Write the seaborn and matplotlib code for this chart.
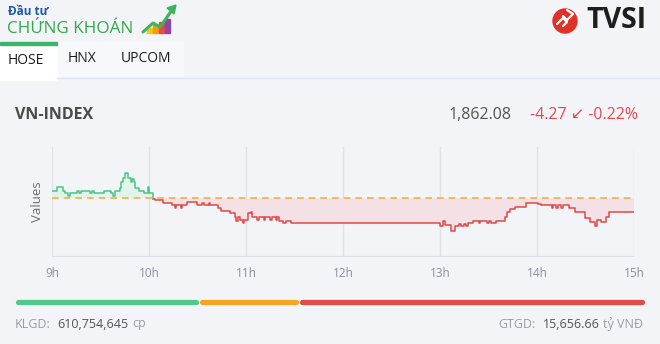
import numpy as np
import pandas as pd
import matplotlib
matplotlib.use("Agg")
import matplotlib.pyplot as plt
from matplotlib.patches import Rectangle, Circle, Polygon
import seaborn as sns

# intraday VN-INDEX: minutes after 9:00 -> index level (step series)
minutes = [0, 3.2, 6.7, 8.2, 10.2, 11.2, 15.6, 16.8, 18, 23.2, 24.8, 25.9, 32, 36.6, 37.6, 38.7,
           41.8, 42.8, 44.2, 45.3, 46.9, 48.6, 49.6, 50.6, 51.5, 54.1, 57.2, 59.3, 60.3,
           62.2, 63.5, 68.4, 74.5, 76, 77, 79.5, 80.5, 83.2, 89.4, 93, 94, 97, 98,
           102.4, 104.8, 109.8, 112.9, 114, 115, 116, 118, 119, 121.1, 122.8, 123.8,
           127, 128, 131, 132, 135, 136, 138.5, 139.3, 140.7, 143, 144.5, 148,
           240, 241.8, 243.4, 246.9, 249, 252, 253, 255, 256, 257.2, 260.3, 264, 265,
           269, 270, 271.7, 274.8, 279.9, 281.3, 283, 286.1, 293.3, 300.5, 302.6,
           309, 310, 312, 313, 315, 316, 320.1, 323.2, 329.4, 332.5, 335.6, 337,
           339.7, 342.4, 344.4, 360]
index_values = [1868.5, 1869.7, 1868.5, 1867.7, 1866.8, 1867.7, 1868.5, 1867.7, 1868.5, 1867.7,
                1868.5, 1867.7, 1868.5, 1867.7, 1866.8, 1868.5,
                1869.3, 1871.2, 1872.4, 1874.0, 1872.4, 1871.2, 1872.0, 1871.2, 1869.3,
                1868.5, 1867.7, 1869.7, 1867.7,
                1866.1, 1865.7, 1864.8, 1864.1, 1863.2, 1864.1, 1863.2, 1864.1, 1865.1,
                1864.1, 1864.6, 1864.1, 1864.6, 1864.1,
                1863.2, 1862.4, 1861.6, 1860.4, 1859.4, 1860.4, 1859.5, 1858.5, 1859.5,
                1861.6, 1862.0, 1860.4,
                1859.6, 1860.4, 1859.6, 1860.4, 1859.6, 1860.4, 1859.6, 1860.4, 1859.3,
                1858.6, 1859.3, 1858.7,
                1857.6, 1859.3, 1858.1, 1856.3, 1857.6, 1858.2, 1857.6, 1858.2, 1857.6,
                1858.5, 1859.3, 1858.6, 1859.3,
                1858.6, 1859.3, 1858.5, 1859.3, 1860.6, 1862.1, 1862.8, 1863.6, 1864.8,
                1864.4, 1864.1,
                1863.3, 1864.1, 1863.3, 1864.1, 1863.3, 1864.1, 1863.1, 1862.1, 1860.1,
                1859.1, 1857.6, 1859.5,
                1859.1, 1860.6, 1862.08, 1862.08]
ref_close = 1866.35
last_value = 1862.08
change = -4.27
change_pct = -0.22

hour_ticks = [0, 60, 120, 180, 240, 300, 360]
hour_labels = ["9h", "10h", "11h", "12h", "13h", "14h", "15h"]

# market breadth bar (advancing / unchanged / declining)
breadth_counts = [117, 63, 220]
breadth_colors = ["#52c98a", "#f5a623", "#e04b4b"]

volume = 610754645
turnover = 15656.66

BG = "#f3f4f8"
GREEN = "#4cc487"
RED = "#e04848"
ORANGE = "#f5b041"

sns.set_style("white")
plt.rcParams["font.family"] = ["Open Sans", "DejaVu Sans"]

fig = plt.figure(figsize=(6.6, 3.44), dpi=100, facecolor=BG)

# pixel layer for header / footer decoration
deco = fig.add_axes([0, 0, 1, 1], zorder=0)
deco.set_xlim(0, 660)
deco.set_ylim(344, 0)
deco.axis("off")

# logo
deco.text(8, 15, "Đầu tư", color="#1d5aa6", fontsize=8.5, fontweight="bold", va="baseline")
deco.text(7, 33, "CHỨNG KHOÁN", color="#36a84a", fontsize=12.3, va="baseline")
for bx, top, c in [(147, 28, "#f5c518"), (153, 25, "#f39c12"), (159, 22, "#e74c3c"), (165, 19, "#8e44ad")]:
    deco.add_patch(Rectangle((bx, top), 4.5, 33 - top, color=c))
deco.plot([143, 153, 160, 172], [32, 23, 27, 10], color="#3cb55a", lw=2.2, solid_capstyle="round")
deco.add_patch(Polygon([[176, 5], [167, 8], [174, 14]], color="#3cb55a"))

deco.add_patch(Circle((565, 21), 12, color="#e03127"))
deco.plot([557, 563, 567, 563], [24, 18, 22, 26], color="white", lw=1.6)
deco.plot([563, 567, 573, 567], [16, 20, 14, 10], color="white", lw=1.6)
deco.text(586, 21, "TVSI", color="#1e1e1e", fontsize=20.5, fontweight="bold", va="center")

# tabs
deco.add_patch(Rectangle((57, 42), 126, 36, color="#f7f8fb"))
deco.add_patch(Rectangle((0, 42), 57, 38, color="white"))
deco.add_patch(Rectangle((0, 42), 57, 2.5, color="#3cb56a"))
deco.plot([57, 660], [77.5, 77.5], color="#d8e5f5", lw=1)
deco.text(8, 60, "HOSE", color="#1a1a1a", fontsize=10, va="center")
deco.text(68, 58, "HNX", color="#1a1a1a", fontsize=10, va="center")
deco.text(121, 58, "UPCOM", color="#1a1a1a", fontsize=10, va="center")

# index header
deco.text(15, 115, "VN-INDEX", color="#4a4a4a", fontsize=11.5, fontweight="bold", va="center")
deco.text(512, 115, f"{last_value:,.2f}", color="#555555", fontsize=11.5, va="center", ha="right")
deco.text(638, 115, f"{change:.2f} ↙ {change_pct:.2f}%", color="#e5484d", fontsize=11.5,
          va="center", ha="right")

# footer
deco.text(15, 324, "KLGD:", color="#9a9da4", fontsize=9, va="center")
deco.text(57, 324, f"{volume:,}", color="#555555", fontsize=9, va="center")
deco.text(132, 324, "cp", color="#9a9da4", fontsize=9, va="center")
deco.text(498, 324, "GTGD:", color="#9a9da4", fontsize=9, va="center")
deco.text(543, 324, f"{turnover:,.2f}", color="#555555", fontsize=9, va="center")
deco.text(643, 324, "tỷ VNĐ", color="#9a9da4", fontsize=9, va="center", ha="right")

# main chart
ax = fig.add_axes([52 / 660, 1 - 256 / 344, 582 / 660, 109 / 344], zorder=1)
ax.set_facecolor("none")

df = pd.DataFrame({"minute": minutes, "value": index_values})
k = int(np.argmax(df["value"].values < ref_close))
up = df.iloc[:k + 1]
down = df.iloc[k:]

ax.fill_between(df["minute"], np.maximum(df["value"], ref_close), ref_close,
                step="post", color="#e2f3ea", lw=0)
ax.fill_between(df["minute"], np.minimum(df["value"], ref_close), ref_close,
                step="post", color="#f3e1e5", lw=0)
ax.axhline(ref_close, color=ORANGE, lw=1.2, ls=(0, (4, 3)), zorder=3)
sns.lineplot(data=up, x="minute", y="value", drawstyle="steps-post", color=GREEN,
             lw=1.1, estimator=None, ax=ax, zorder=4)
sns.lineplot(data=down, x="minute", y="value", drawstyle="steps-post", color=RED,
             lw=1.1, estimator=None, ax=ax, zorder=4)

ax.set_xlim(0, 360)
ax.set_ylim(1848.6, 1881.8)
ax.set_xticks(hour_ticks)
ax.set_xticklabels(hour_labels)
ax.set_yticks([])
ax.tick_params(axis="x", length=0, pad=8, labelsize=8.5, labelcolor="#8a8f99")
ax.grid(axis="x", color="#e0e2e8", lw=1)
ax.set_axisbelow(True)
for s in ["top", "right", "left"]:
    ax.spines[s].set_visible(False)
ax.spines["bottom"].set_color("#dcdee4")
ax.set_xlabel("")
ax.set_ylabel("Values", color="#707070", fontsize=9.5)
ax.yaxis.set_label_coords(-0.014, 0.5)

# breadth bar
bx = fig.add_axes([15 / 660, 1 - 306 / 344, 630 / 660, 8 / 344], zorder=1)
total = sum(breadth_counts)
px = total / 630
left = 0
for n, c in zip(breadth_counts, breadth_colors):
    bx.plot([left + 3 * px, left + n - 3 * px], [0, 0], color=c, lw=3.8, solid_capstyle="round")
    left += n
bx.set_xlim(0, total)
bx.set_ylim(-1, 1)
bx.axis("off")

plt.savefig("out.png", dpi=100, facecolor=BG)
